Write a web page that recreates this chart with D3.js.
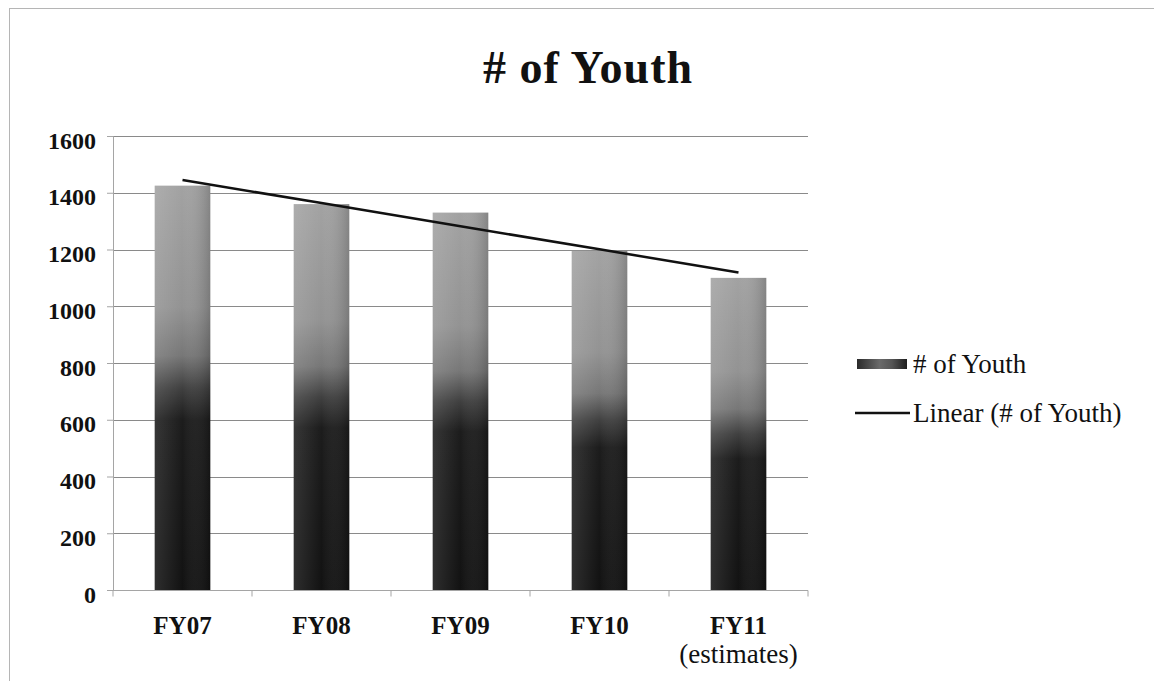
<!DOCTYPE html>
<html>
<head>
<meta charset="utf-8">
<script src="https://cdn.jsdelivr.net/npm/d3@7"></script>
<style>
  body { margin: 0; background: #fff; }
  svg { display: block; }
</style>
</head>
<body>
<script>
let categories = ["FY07", "FY08", "FY09", "FY10", "FY11"]
let sublabels = ["", "", "", "", "(estimates)"]
let youth = [1425, 1360, 1330, 1195, 1100]
let yTicks = [0, 200, 400, 600, 800, 1000, 1200, 1400, 1600]

let width = 1154, height = 681
let margin = {top: 136, right: 346, bottom: 91, left: 113}

// least squares line, like the Excel "Linear" trendline
function linear_fit(vals) {
  let xs = vals.map((d, i) => i + 1)
  let mx = d3.mean(xs), my = d3.mean(vals)
  let num = d3.sum(xs, (x, i) => (x - mx) * (vals[i] - my))
  let den = d3.sum(xs, x => (x - mx) * (x - mx))
  let slope = num / den
  return xs.map(x => my + slope * (x - mx))
}

let trend = linear_fit(youth)

let svg = d3.select("body").append("svg")
    .attr("width", width)
    .attr("height", height)

let defs = svg.append("defs")

let grad = defs.append("linearGradient")
    .attr("id", "barfill")
    .attr("x1", 0).attr("y1", 0).attr("x2", 0).attr("y2", 1)
grad.selectAll("stop")
  .data([[0, "#a2a2a2"], [0.3, "#939393"], [0.42, "#777"], [0.5, "#404040"], [0.58, "#1c1c1c"], [1, "#121212"]])
  .join("stop")
    .attr("offset", d => d[0])
    .attr("stop-color", d => d[1])

let side = defs.append("linearGradient")
    .attr("id", "barside")
    .attr("x1", 0).attr("y1", 0).attr("x2", 1).attr("y2", 0)
side.selectAll("stop")
  .data([[0, "#fff", 0.12], [0.5, "#fff", 0], [1, "#000", 0.18]])
  .join("stop")
    .attr("offset", d => d[0])
    .attr("stop-color", d => d[1])
    .attr("stop-opacity", d => d[2])

let sw = defs.append("linearGradient")
    .attr("id", "swatch")
    .attr("x1", 0).attr("y1", 0).attr("x2", 1).attr("y2", 0)
sw.selectAll("stop")
  .data([[0, "#2a2a2a"], [0.45, "#6a6a6a"], [0.7, "#555"], [1, "#1e1e1e"]])
  .join("stop")
    .attr("offset", d => d[0])
    .attr("stop-color", d => d[1])

// scanned page frame
svg.append("rect")
    .attr("x", 9.5).attr("y", 8.5)
    .attr("width", 1200).attr("height", 700)
    .attr("fill", "none")
    .attr("stroke", "#b5b5b5")

let x = d3.scaleBand()
    .domain(categories)
    .range([margin.left, width - margin.right])
    .padding(0)

let y = d3.scaleLinear()
    .domain([0, 1600])
    .range([height - margin.bottom, margin.top])

let barW = x.bandwidth() * 0.4

// gridlines
svg.append("g")
  .selectAll("line")
  .data(yTicks.filter(d => d > 0))
  .join("line")
    .attr("x1", margin.left)
    .attr("x2", width - margin.right)
    .attr("y1", d => Math.round(y(d)) + 0.5)
    .attr("y2", d => Math.round(y(d)) + 0.5)
    .attr("stroke", "#8a8a8a")
    .attr("stroke-width", 1)

// y axis
svg.append("g")
    .attr("transform", `translate(${margin.left},0)`)
    .call(d3.axisLeft(y).tickValues(yTicks).tickFormat(d3.format("d")).tickSize(6).tickPadding(11))
    .call(g => g.select(".domain").attr("stroke", "#a5a5a5"))
    .call(g => g.selectAll(".tick line").attr("stroke", "#a5a5a5"))
    .call(g => g.selectAll("text")
        .attr("dy", "0.5em")
        .style("font-family", "'Liberation Serif', serif")
        .style("font-weight", "bold")
        .style("font-size", "24px")
        .attr("fill", "#111"))

// bars
let bars = svg.append("g")
bars.selectAll("rect.bar")
  .data(youth)
  .join("rect")
    .attr("class", "bar")
    .attr("x", (d, i) => x(categories[i]) + (x.bandwidth() - barW) / 2)
    .attr("y", d => y(d))
    .attr("width", barW)
    .attr("height", d => y(0) - y(d))
    .attr("fill", "url(#barfill)")
bars.selectAll("rect.side")
  .data(youth)
  .join("rect")
    .attr("class", "side")
    .attr("x", (d, i) => x(categories[i]) + (x.bandwidth() - barW) / 2)
    .attr("y", d => y(d))
    .attr("width", barW)
    .attr("height", d => y(0) - y(d))
    .attr("fill", "url(#barside)")

// x axis
let xAxis = svg.append("g")
    .attr("transform", `translate(0,${Math.round(y(0)) + 0.5})`)
xAxis.append("line")
    .attr("x1", margin.left).attr("x2", width - margin.right)
    .attr("stroke", "#a5a5a5")
xAxis.selectAll("line.tk")
  .data(d3.range(categories.length + 1))
  .join("line")
    .attr("class", "tk")
    .attr("x1", i => i < categories.length ? x(categories[i]) : x.range()[1])
    .attr("x2", i => i < categories.length ? x(categories[i]) : x.range()[1])
    .attr("y1", 0).attr("y2", 6)
    .attr("stroke", "#a5a5a5")
xAxis.selectAll("text.cat")
  .data(categories)
  .join("text")
    .attr("class", "cat")
    .attr("x", d => x(d) + x.bandwidth() / 2)
    .attr("y", 43)
    .attr("text-anchor", "middle")
    .style("font-family", "'Liberation Serif', serif")
    .style("font-weight", "bold")
    .style("font-size", "25px")
    .attr("fill", "#111")
    .text(d => d)
xAxis.selectAll("text.sub")
  .data(sublabels)
  .join("text")
    .attr("class", "sub")
    .attr("x", (d, i) => x(categories[i]) + x.bandwidth() / 2)
    .attr("y", 72)
    .attr("text-anchor", "middle")
    .style("font-family", "'Liberation Serif', serif")
    .style("font-size", "27px")
    .attr("fill", "#111")
    .text(d => d)

// trendline
svg.append("path")
    .datum(trend)
    .attr("fill", "none")
    .attr("stroke", "#111")
    .attr("stroke-width", 2.5)
    .attr("d", d3.line()
        .x((d, i) => x(categories[i]) + x.bandwidth() / 2)
        .y(d => y(d)))

// title
svg.append("text")
    .attr("x", 588)
    .attr("y", 83)
    .attr("text-anchor", "middle")
    .style("font-family", "'Liberation Serif', serif")
    .style("font-weight", "bold")
    .style("font-size", "46px")
    .style("letter-spacing", "1px")
    .attr("fill", "#111")
    .text("# of Youth")

// legend
let legend = svg.append("g")
legend.append("rect")
    .attr("x", 857).attr("y", 359)
    .attr("width", 50).attr("height", 10)
    .attr("fill", "url(#swatch)")
legend.append("line")
    .attr("x1", 855).attr("x2", 910)
    .attr("y1", 413).attr("y2", 413)
    .attr("stroke", "#111")
    .attr("stroke-width", 2.5)
legend.selectAll("text")
  .data(["# of Youth", "Linear (# of Youth)"])
  .join("text")
    .attr("x", 913)
    .attr("y", (d, i) => 373 + i * 49)
    .style("font-family", "'Liberation Serif', serif")
    .style("font-size", "27px")
    .attr("fill", "#111")
    .text(d => d)
</script>
</body>
</html>
